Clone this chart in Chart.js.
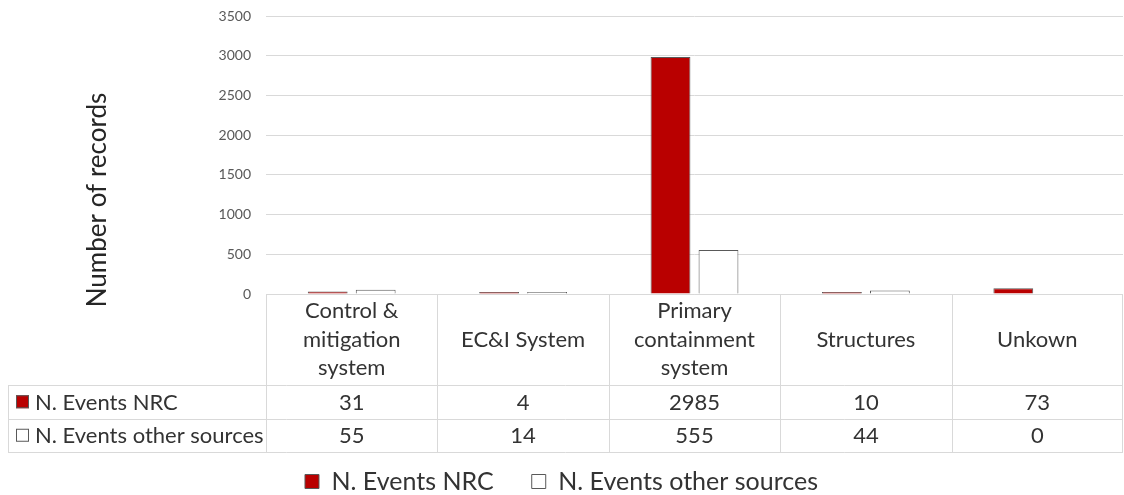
<!DOCTYPE html>
<html>
<head>
<meta charset="utf-8">
<script src="https://cdn.jsdelivr.net/npm/chart.js@4/dist/chart.umd.min.js"></script>
<style>
  body { margin: 0; background: #fff; }
  #wrap { width: 1124px; height: 495px; position: relative; }
</style>
</head>
<body>
<div id="wrap"><canvas id="records-chart"></canvas></div>
<script>
const categories = [
  ['Control &', 'mitigation', 'system'],
  'EC&I System',
  ['Primary', 'containment', 'system'],
  'Structures',
  'Unkown'
];
const eventsNRC = [31, 4, 2985, 10, 73];
const eventsOther = [55, 14, 555, 44, 0];
const yTicks = [0, 500, 1000, 1500, 2000, 2500, 3000, 3500];

const FONT = 'Lato, "Open Sans", sans-serif';
const GRID = '#d9d9d9';
const TEXT = '#333333';

// zero values get no bar (minBarLength would otherwise draw one)
const barValues = (arr) => arr.map(v => (v === 0 ? null : v));

// data table under the plot + rotated y title
const tablePlugin = {
  id: 'dataTable',
  afterDraw(chart) {
    const ctx = chart.ctx;
    const area = chart.chartArea;
    const x = chart.scales.x;
    const n = categories.length;
    const colW = (area.right - area.left) / n;
    const top = area.bottom;
    const hdrBottom = top + 91;
    const row1 = hdrBottom + 33.5;
    const row2 = row1 + 33.5;
    const tableLeft = 8;
    const tableData = [eventsNRC, eventsOther];

    ctx.save();
    ctx.strokeStyle = GRID;
    ctx.lineWidth = 1;
    ctx.beginPath();
    const h = (x0, x1, y) => { ctx.moveTo(x0, Math.round(y) + 0.5); ctx.lineTo(x1, Math.round(y) + 0.5); };
    const v = (xx, y0, y1) => { ctx.moveTo(Math.round(xx) + 0.5, y0); ctx.lineTo(Math.round(xx) + 0.5, y1); };
    h(area.left, area.right, top);
    h(tableLeft, area.right, hdrBottom);
    h(tableLeft, area.right, row1);
    h(tableLeft, area.right, row2);
    v(tableLeft, hdrBottom, row2);
    for (let i = 0; i <= n; i++) {
      const xx = i === n ? area.right - 1 : area.left + i * colW;
      v(xx, top, row2);
    }
    ctx.stroke();

    const rows = [
      { ds: chart.data.datasets[0], y: (hdrBottom + row1) / 2 },
      { ds: chart.data.datasets[1], y: (row1 + row2) / 2 }
    ];
    ctx.font = '22px ' + FONT;
    ctx.textBaseline = 'middle';
    rows.forEach((r, k) => {
      ctx.fillStyle = r.ds.backgroundColor;
      ctx.strokeStyle = '#595959';
      ctx.fillRect(16, r.y - 6.5, 13, 13);
      ctx.strokeRect(16.5, r.y - 6, 12, 12);
      ctx.fillStyle = TEXT;
      ctx.textAlign = 'left';
      ctx.fillText(r.ds.label, 35, r.y + 1);
      ctx.textAlign = 'center';
      tableData[k].forEach((val, i) => {
        ctx.fillText(String(val), x.getPixelForValue(i), r.y + 1);
      });
    });

    // y axis title
    ctx.translate(98, 200);
    ctx.rotate(-Math.PI / 2);
    ctx.font = '26px ' + FONT;
    ctx.fillStyle = '#262626';
    ctx.textAlign = 'center';
    ctx.fillText('Number of records', 0, 0);
    ctx.restore();
  }
};

const ctx = document.getElementById('records-chart').getContext('2d');
const chart = new Chart(ctx, {
  type: 'bar',
  data: {
    labels: categories,
    datasets: [
      {
        label: 'N. Events NRC',
        data: barValues(eventsNRC),
        backgroundColor: '#b90000',
        borderColor: '#595959',
        borderWidth: 1,
        minBarLength: 2,
        categoryPercentage: 0.56,
        barPercentage: 0.83
      },
      {
        label: 'N. Events other sources',
        data: barValues(eventsOther),
        backgroundColor: '#ffffff',
        borderColor: '#595959',
        borderWidth: 1,
        minBarLength: 2,
        categoryPercentage: 0.56,
        barPercentage: 0.83
      }
    ]
  },
  options: {
    responsive: true,
    maintainAspectRatio: false,
    animation: false,
    layout: { padding: { top: 16, left: 0, right: 1, bottom: 0 } },
    scales: {
      x: {
        grid: { display: false },
        border: { display: false },
        ticks: {
          color: TEXT,
          font: { family: FONT, size: 22, lineHeight: 1.3 },
          padding: 9,
          crossAlign: 'center',
          autoSkip: false,
          maxRotation: 0
        },
        afterFit(scale) { scale.height = 137; }
      },
      y: {
        min: 0,
        max: 3500,
        afterBuildTicks(scale) { scale.ticks = yTicks.map(v => ({ value: v })); },
        grid: { color: GRID, drawTicks: false },
        border: { display: false },
        ticks: {
          color: '#595959',
          font: { family: FONT, size: 14 },
          padding: 15,
          callback: (value) => String(value)
        },
        afterFit(scale) {
          scale.width = 266;
          scale.paddingTop = 0;
          scale.paddingBottom = 0;
        }
      }
    },
    plugins: {
      legend: {
        position: 'bottom',
        maxHeight: 64,
        labels: {
          boxWidth: 14,
          boxHeight: 14,
          padding: 38,
          color: TEXT,
          font: { family: FONT, size: 25 }
        }
      },
      tooltip: { enabled: false }
    }
  },
  plugins: [tablePlugin]
});
</script>
</body>
</html>
